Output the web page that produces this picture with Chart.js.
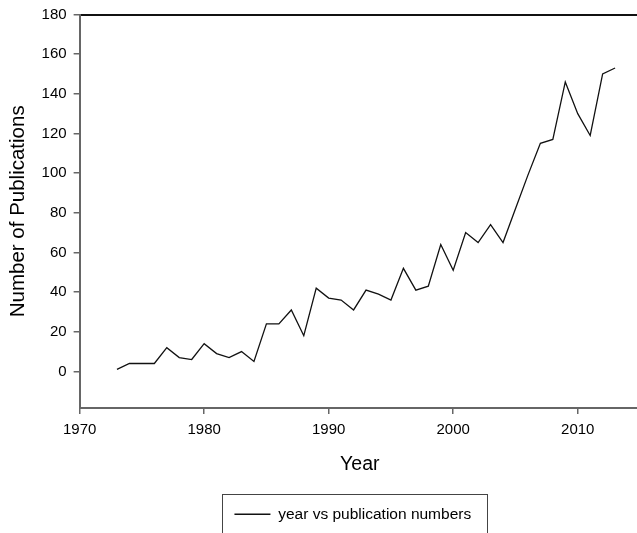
<!DOCTYPE html>
<html>
<head>
<meta charset="utf-8">
<script src="https://cdn.jsdelivr.net/npm/chart.js@4"></script>
<style>
  html, body { margin: 0; padding: 0; background: #fff; overflow: hidden; }
  #wrap { width: 645px; height: 533px; }
</style>
</head>
<body>
<div id="wrap"><canvas id="pubChart" width="645" height="533"></canvas></div>
<script>
// DATA
const years = [1973, 1974, 1975, 1976, 1977, 1978, 1979, 1980, 1981, 1982, 1983, 1984,
    1985, 1986, 1987, 1988, 1989, 1990, 1991, 1992, 1993, 1994, 1995, 1996, 1997,
    1998, 1999, 2000, 2001, 2002, 2003, 2004, 2005, 2006, 2007, 2008, 2009, 2010,
    2011, 2012, 2013];
const publications = [1, 4, 4, 4, 12, 7, 6, 14, 9, 7, 10, 5,
    24, 24, 31, 18, 42, 37, 36, 31, 41, 39, 36, 52, 41,
    43, 64, 51, 70, 65, 74, 65, 82, 99, 115, 117, 146, 130,
    119, 150, 153];
const xTicks = [1970, 1980, 1990, 2000, 2010];
const yTicks = [0, 20, 40, 60, 80, 100, 120, 140, 160, 180];
const seriesName = "year vs publication numbers";

const FONT = "'Liberation Sans', Arial, sans-serif";
const AXIS_GREY = "#666666";

// legend sits a bit left of the plot centre, with a box round it
const legendBox = {
    id: 'legendBox',
    afterLayout(chart) {
        const lg = chart.legend;
        if (!lg) return;
        const dx = -7;
        lg.left += dx;
        lg.right += dx;
        (lg.legendHitBoxes || []).forEach(h => { h.left += dx; });
    },
    afterDraw(chart) {
        const lg = chart.legend;
        if (!lg || !lg.legendHitBoxes || !lg.legendHitBoxes.length) return;
        const hb = lg.legendHitBoxes[0];
        const mid = hb.top + hb.height / 2;
        const c = chart.ctx;
        c.save();
        c.strokeStyle = "#444";
        c.lineWidth = 1;
        c.strokeRect(Math.round(hb.left - 12) + 0.5, Math.round(mid - 20) + 0.5,
            Math.round(hb.width + 28), 60);
        c.restore();
    }
};

const ctx = document.getElementById('pubChart');

new Chart(ctx, {
    type: 'line',
    data: {
        datasets: [{
            label: seriesName,
            data: years.map((y, i) => ({ x: y, y: publications[i] })),
            borderColor: '#111',
            backgroundColor: '#111',
            borderWidth: 1.3,
            pointRadius: 0,
            tension: 0,
            fill: false
        }]
    },
    options: {
        responsive: false,
        animation: false,
        layout: { padding: { top: 2, left: 6, right: 5, bottom: 1 } },
        plugins: {
            tooltip: { enabled: false },
            legend: {
                position: 'bottom',
                fullSize: false,
                labels: {
                    usePointStyle: true,
                    pointStyle: 'line',
                    pointStyleWidth: 36,
                    boxHeight: 15,
                    color: '#000',
                    padding: 14,
                    font: { family: FONT, size: 15.5 }
                }
            }
        },
        scales: {
            x: {
                type: 'linear',
                min: 1970,
                max: 2015,
                afterBuildTicks: axis => { axis.ticks = xTicks.map(v => ({ value: v })); },
                ticks: {
                    color: '#000',
                    padding: 7,
                    maxRotation: 0,
                    font: { family: FONT, size: 15 },
                    callback: v => String(v)
                },
                grid: { drawOnChartArea: false, drawTicks: true, tickLength: 6, color: AXIS_GREY, lineWidth: 1.5 },
                border: { color: AXIS_GREY, width: 2 },
                title: {
                    display: true,
                    text: 'Year',
                    color: '#000',
                    font: { family: FONT, size: 19.5 },
                    padding: { top: 7, bottom: 16 }
                }
            },
            xTop: {
                type: 'linear',
                position: 'top',
                min: 1970,
                max: 2015,
                ticks: { display: false },
                grid: { display: false, drawTicks: false },
                border: { color: '#111', width: 2 }
            },
            y: {
                min: -18.5,
                max: 180,
                afterBuildTicks: axis => { axis.ticks = yTicks.map(v => ({ value: v })); },
                ticks: {
                    color: '#000',
                    padding: 7,
                    font: { family: FONT, size: 15, lineHeight: 1 }
                },
                grid: { drawOnChartArea: false, drawTicks: true, tickLength: 6, color: AXIS_GREY, lineWidth: 1.5 },
                border: { color: AXIS_GREY, width: 2 },
                title: {
                    display: true,
                    text: 'Number of Publications',
                    color: '#000',
                    font: { family: FONT, size: 20.5 },
                    padding: { top: 0, bottom: 4 }
                }
            }
        }
    },
    plugins: [legendBox]
});
</script>
</body>
</html>
